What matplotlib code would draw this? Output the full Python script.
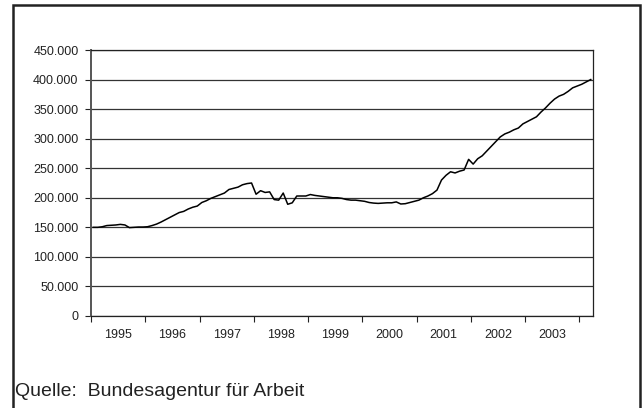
import numpy as np
import matplotlib
matplotlib.use("Agg")
from matplotlib import pyplot as plt
from matplotlib.ticker import FuncFormatter

plt.rcParams['font.family'] = ['Liberation Sans', 'DejaVu Sans']

# monatliche Werte Jan 1995 - Mär 2004 (in Tausend)
werte = [150, 150, 151, 153, 153.5, 154, 155, 154, 149.5, 150, 150.5, 150.5,
         151, 153, 155.5, 159, 163, 167, 171, 175, 177, 181, 184, 186,
         192, 195, 199, 202, 205, 208, 214, 216, 218, 222, 224, 225,
         206, 212, 209, 210, 197, 196, 208, 189, 191.5, 203, 203, 203,
         205.5, 204, 203, 202, 201, 200, 200, 199, 197, 196, 196, 195,
         194, 192, 191, 190.5, 191, 191.5, 191.5, 193, 189.5, 190, 192, 194,
         196, 200, 203, 207, 213, 230, 238, 244, 242, 245, 247, 265,
         257, 266, 271, 279, 287, 295, 303, 308, 311, 315, 318, 325,
         329, 333, 337, 345, 352, 360, 367, 372, 375, 380, 386, 389,
         392, 396, 400]
jahre = ["1995", "1996", "1997", "1998", "1999", "2000", "2001", "2002", "2003"]
y_ticks = list(range(0, 450001, 50000))

werte = np.array(werte) * 1000
x = np.arange(len(werte))

fig = plt.figure(figsize=(6.43, 4.08), dpi=100)
ax = fig.add_axes([91/643, 1-316/408, (593-91)/643, (316-50)/408])

# rahmen um alles
rahmen = plt.Rectangle((13/643, -0.02), (640-13)/643, 1-5/408+0.02, transform=fig.transFigure,
                       fill=False, edgecolor="#222222", linewidth=1.8)
fig.patches.append(rahmen)

ax.plot(x, werte, color="black", linewidth=1.1)

ax.set_xlim(-0.5, len(werte)-0.5)
ax.set_ylim(0, 450000)
ax.set_yticks(y_ticks)
ax.yaxis.set_major_formatter(FuncFormatter(lambda v, p: "{:,.0f}".format(v).replace(",", ".")))
ax.grid(axis="y", color="#333333", linewidth=0.9)
ax.set_axisbelow(True)

ax.set_xticks([-0.5 + 12*k for k in range(len(jahre)+1)])
ax.set_xticklabels([])
ax.set_xticks([5.5 + 12*k for k in range(len(jahre))], minor=True)
ax.set_xticklabels(jahre, minor=True)
ax.tick_params(axis="x", which="major", length=4, direction="out", color="#222222")
ax.tick_params(axis="x", which="minor", length=0, pad=9.5, labelsize=9, labelcolor="#222222")
ax.tick_params(axis="y", length=4, direction="out", pad=5, labelsize=9, labelcolor="#222222", color="#222222")

for s in ax.spines.values():
    s.set_color("#222222")
    s.set_linewidth(0.9)
ax.spines["left"].set_color("#555555")
ax.spines["left"].set_linewidth(1.4)

fig.text(15/643, 1-391/408, "Quelle:  Bundesagentur für Arbeit", fontsize=14,
         color="#222222", va="center", ha="left")

plt.savefig("out.png", dpi=100)
